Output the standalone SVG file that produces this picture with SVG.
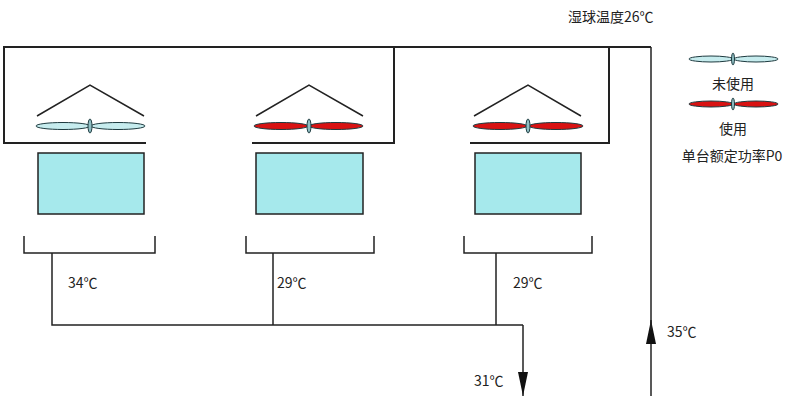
<svg xmlns="http://www.w3.org/2000/svg" width="800" height="400" viewBox="0 0 800 400">
<style>
.l{fill:none;stroke:#222;stroke-width:2}
.r{stroke:#222;stroke-width:1.5}
.c{fill:#a6e9ec;stroke:#222;stroke-width:1.5}
.off{fill:#c6ecee;stroke:#1d3a3f;stroke-width:1}
.on{fill:#d81212;stroke:#1d3a3f;stroke-width:1}
.hub{fill:#8fbfc4;stroke:#1d3a3f;stroke-width:1}
text{font-family:"Noto Sans CJK SC","Noto Sans",sans-serif;font-size:14px;fill:#222}
</style>
<defs>
<marker id="a" viewBox="0 0 24 10" refX="24" refY="5" markerWidth="24" markerHeight="10" orient="auto" markerUnits="userSpaceOnUse"><path d="M0,0 L24,5 L0,10 z" fill="#111"/></marker>
</defs>
<text x="568" y="22" font-size="15">湿球温度26℃</text>
<g id="frame">
<path class="l" d="M146,143 H4 V47 H651 M252,143 H394 V47 M470,143 H609 V47"/>
</g>
<g id="unit1">
<path class="r" fill="none" d="M37,116 L90,85 L144,116"/>
<ellipse class="off" cx="63" cy="126" rx="27" ry="3.5"/><ellipse class="off" cx="118" cy="126" rx="27" ry="3.5"/><ellipse class="hub" cx="90" cy="126" rx="2" ry="7"/>
<rect class="c" x="38" y="153" width="106" height="61"/>
</g>
<g id="unit2">
<path class="r" fill="none" d="M256,116 L309,85 L363,116"/>
<ellipse class="on" cx="281" cy="126" rx="27" ry="3.5"/><ellipse class="on" cx="336" cy="126" rx="27" ry="3.5"/><ellipse class="hub" cx="309" cy="126" rx="2" ry="7"/>
<rect class="c" x="256" y="153" width="107" height="61"/>
</g>
<g id="unit3">
<path class="r" fill="none" d="M474,116 L528,85 L581,116"/>
<ellipse class="on" cx="500" cy="126" rx="27" ry="3.5"/><ellipse class="on" cx="556" cy="126" rx="27" ry="3.5"/><ellipse class="hub" cx="528" cy="126" rx="2" ry="7"/>
<rect class="c" x="475" y="153" width="106" height="61"/>
</g>
<g id="legend">
<ellipse class="off" cx="711" cy="59" rx="22" ry="3"/><ellipse class="off" cx="756" cy="59" rx="22" ry="3"/><ellipse class="hub" cx="733" cy="59" rx="1.5" ry="6"/>
<text x="733" y="89" text-anchor="middle">未使用</text>
<ellipse class="on" cx="711" cy="104" rx="22" ry="3"/><ellipse class="on" cx="756" cy="104" rx="22" ry="3"/><ellipse class="hub" cx="733" cy="104" rx="1.5" ry="6"/>
<text x="733" y="134" text-anchor="middle">使用</text>
<text x="732" y="161" text-anchor="middle">单台额定功率P0</text>
</g>
<g id="connectors">
<path class="r" fill="none" d="M24,236 V253 H155 V236 M246,236 V253 H374 V236 M464,236 V253 H592 V236"/>
<path class="r" fill="none" d="M52,253 V325 H523 M273,253 V325 M496,253 V325"/>
<path class="r" fill="none" d="M523,325 V396" marker-end="url(#a)"/>
<path class="r" fill="none" d="M651,396 V320" marker-end="url(#a)"/>
<path class="r" fill="none" d="M651,330 V47"/>
</g>
<text x="68" y="288">34℃</text>
<text x="277" y="288">29℃</text>
<text x="513" y="288">29℃</text>
<text x="474" y="386">31℃</text>
<text x="667" y="337">35℃</text>
</svg>
